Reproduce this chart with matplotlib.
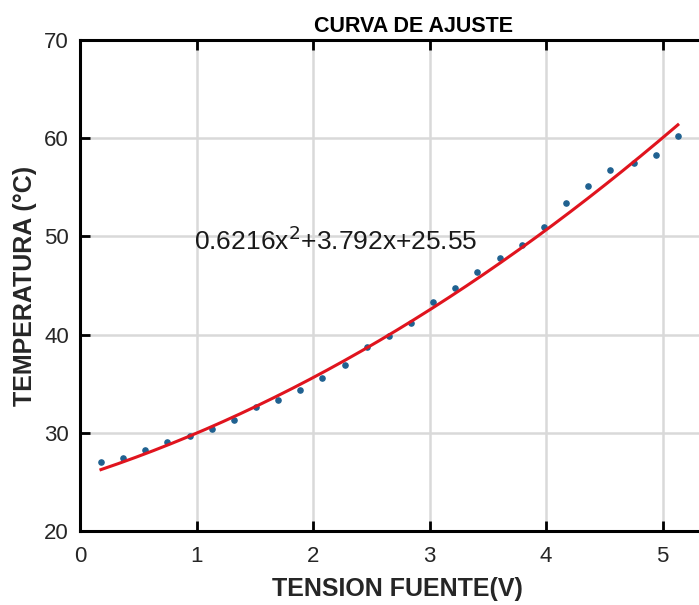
import matplotlib.pyplot as plt
import numpy as np

plt.rcParams['font.family'] = ['Liberation Sans', 'DejaVu Sans']

# datos medidos
tension = [0.18, 0.37, 0.56, 0.75, 0.94, 1.13, 1.32, 1.51, 1.70, 1.89, 2.08, 2.27, 2.46,
           2.65, 2.84, 3.03, 3.22, 3.41, 3.60, 3.79, 3.98, 4.17, 4.36, 4.55, 4.75, 4.94, 5.13]
temperatura = [27.0, 27.4, 28.2, 29.1, 29.7, 30.4, 31.3, 32.6, 33.3, 34.4, 35.6, 36.9, 38.7,
               39.9, 41.2, 43.3, 44.7, 46.4, 47.8, 49.1, 51.0, 53.4, 55.1, 56.8, 57.5, 58.3, 60.2]

# coeficientes del ajuste
coef = [0.6216, 3.792, 25.55]
ecuacion = '0.6216x$^{2}$+3.792x+25.55'

xs = np.linspace(tension[0], tension[-1], 200)
ys = np.polyval(coef, xs)

fig = plt.figure(figsize=(6.99, 6.05), dpi=100)
ax = fig.add_axes([80/699, 74/605, 641/699, 491/605])

ax.plot(tension, temperatura, '.', color='#1f6190', markersize=7.5)
ax.plot(xs, ys, color='#e0141e', linewidth=2.2)

ax.set_xlim(0, 5.5)
ax.set_ylim(20, 70)
ax.set_xticks([0, 1, 2, 3, 4, 5])
ax.set_yticks([20, 30, 40, 50, 60, 70])
ax.grid(True, color='#d9d9d9', linewidth=1.8)
ax.set_axisbelow(True)
ax.tick_params(direction='in', length=7, width=2, labelsize=16, top=True, right=True,
               colors='black', labelcolor='#262626')
ax.tick_params(axis='x', pad=11)
ax.tick_params(axis='y', pad=8)
for s in ax.spines.values():
    s.set_linewidth(2.2)

ax.text(0.98, 49.6, ecuacion, fontsize=19, color='#1a1a1a', va='center', ha='left')

ax.set_title('CURVA DE AJUSTE', fontsize=15.5, fontweight='bold', pad=6, x=0.52)
ax.set_xlabel('TENSION FUENTE(V)', fontsize=18, fontweight='bold', color='#262626')
ax.set_ylabel('TEMPERATURA (°C)', fontsize=18, fontweight='bold', color='#262626')
ax.xaxis.set_label_coords(0.496, -0.093)
ax.yaxis.set_label_coords(-0.067, 0.5)

fig.savefig('out.png', dpi=100)
